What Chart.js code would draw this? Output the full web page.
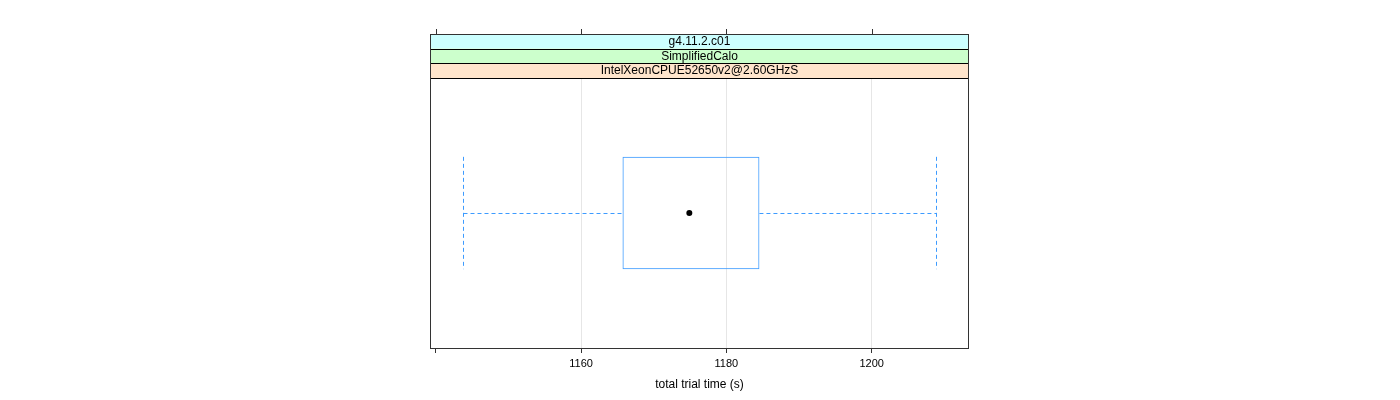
<!DOCTYPE html>
<html><head><meta charset="utf-8">
<script src="https://cdn.jsdelivr.net/npm/chart.js@4/dist/chart.umd.min.js"></script>
<style>html,body{margin:0;padding:0;background:#fff}#wrap{width:1400px;height:400px}</style>
</head><body><div id="wrap"><canvas id="c" width="1400" height="400"></canvas></div>
<script>
const categories = ['g4.11.2.c01 | SimplifiedCalo | IntelXeonCPUE52650v2@2.60GHzS'];
const stripLabels = ['g4.11.2.c01', 'SimplifiedCalo', 'IntelXeonCPUE52650v2@2.60GHzS'];
const stripColors = ['#ccffff', '#ccffcc', '#ffe5cc'];
const whiskerLow = [1143.8];
const q1 = [1165.7];
const median = [1174.9];
const q3 = [1184.55];
const whiskerHigh = [1208.9];
const tickValues = [1140, 1160, 1180, 1200];
const tickLabels = ['', '1160', '1180', '1200'];
const xRange = [1139.2, 1213.4];
const axisTitle = 'total trial time (s)';

const FONT = "'Liberation Sans', Arial, Helvetica, sans-serif";
const boxColor = '#3d9bff';

const lattice = {
  id: 'lattice',
  afterDatasetsDraw(chart) {
    const ctx = chart.ctx, xs = chart.scales.x;
    const meta = chart.getDatasetMeta(0);
    meta.data.forEach((el, i) => {
      const p = el.getProps(['y', 'height'], true);
      const y = Math.round(p.y) + 0.5, h = p.height;
      const xl = Math.round(xs.getPixelForValue(whiskerLow[i])) + 0.5;
      const xa = xs.getPixelForValue(q1[i]);
      const xb = xs.getPixelForValue(q3[i]);
      const xh = Math.round(xs.getPixelForValue(whiskerHigh[i])) + 0.5;
      const segs = [
        [xl, y, xa, y], [xb, y, xh, y],
        [xl, p.y - h / 2, xl, p.y + h / 2], [xh, p.y - h / 2, xh, p.y + h / 2]
      ];
      ctx.save();
      ctx.lineWidth = 1;
      ctx.setLineDash([4, 3]);
      segs.forEach(s => {
        ctx.strokeStyle = boxColor;
        ctx.beginPath();
        ctx.moveTo(s[0], s[1]); ctx.lineTo(s[2], s[3]);
        ctx.stroke();
      });
      ctx.setLineDash([]);
      ctx.fillStyle = '#000';
      ctx.beginPath();
      ctx.arc(xs.getPixelForValue(median[i]), p.y, 3, 0, Math.PI * 2);
      ctx.fill();
      ctx.restore();
    });
  },
  afterDraw(chart) {
    const ctx = chart.ctx, a = chart.chartArea, xs = chart.scales.x;
    const stripTop = 34, stripH = (a.top - stripTop) / stripLabels.length;
    ctx.save();
    ctx.lineWidth = 1;
    ctx.setLineDash([]);
    stripLabels.forEach((lab, i) => {
      const y0 = stripTop + i * stripH;
      ctx.fillStyle = stripColors[i];
      ctx.fillRect(a.left, y0, a.right - a.left, stripH);
      ctx.strokeStyle = '#000';
      ctx.strokeRect(a.left + 0.5, Math.round(y0) + 0.5, a.right - a.left - 1, Math.round(stripH));
      ctx.fillStyle = '#000';
      ctx.font = '12px ' + FONT;
      ctx.textAlign = 'center';
      ctx.textBaseline = 'middle';
      ctx.fillText(lab, (a.left + a.right) / 2, y0 + stripH / 2 + 0.5);
    });
    ctx.strokeStyle = '#333';
    ctx.strokeRect(a.left + 0.5, stripTop + 0.5, a.right - a.left - 1, a.bottom - stripTop);
    ctx.beginPath();
    tickValues.forEach(v => {
      const x = Math.round(xs.getPixelForValue(v)) + 0.5;
      ctx.moveTo(x, stripTop - 5); ctx.lineTo(x, stripTop);
    });
    ctx.stroke();
    ctx.restore();
  }
};

new Chart(document.getElementById('c'), {
  type: 'bar',
  data: {
    labels: categories,
    datasets: [{
      data: categories.map((c, i) => [q1[i], q3[i]]),
      backgroundColor: 'rgba(0,0,0,0)',
      borderColor: boxColor,
      borderWidth: 1,
      borderSkipped: false,
      categoryPercentage: 1,
      barPercentage: 0.416
    }]
  },
  options: {
    indexAxis: 'y',
    responsive: false,
    animation: false,
    devicePixelRatio: 1,
    layout: { padding: { left: 430, right: 431, top: 78, bottom: 0 } },
    plugins: { legend: { display: false }, tooltip: { enabled: false } },
    scales: {
      y: { display: false },
      x: {
        type: 'linear',
        min: xRange[0], max: xRange[1],
        afterBuildTicks: s => { s.ticks = tickValues.map(v => ({ value: v })); },
        afterFit: s => { s.height = 52; },
        border: { display: false },
        grid: {
          color: c => (c.tick && tickLabels[tickValues.indexOf(c.tick.value)] === '') ? 'rgba(0,0,0,0)' : '#e6e6e6',
          tickColor: '#333',
          tickLength: 5,
          lineWidth: 1
        },
        ticks: {
          autoSkip: false,
          maxRotation: 0,
          padding: 4,
          color: '#000',
          font: { family: FONT, size: 11 },
          callback: v => { const k = tickValues.indexOf(v); return k >= 0 ? tickLabels[k] : ''; }
        },
        title: {
          display: true, text: axisTitle, color: '#000',
          font: { family: FONT, size: 12 },
          padding: { top: 0, bottom: 8 }
        }
      }
    }
  },
  plugins: [lattice]
});
</script></body></html>
